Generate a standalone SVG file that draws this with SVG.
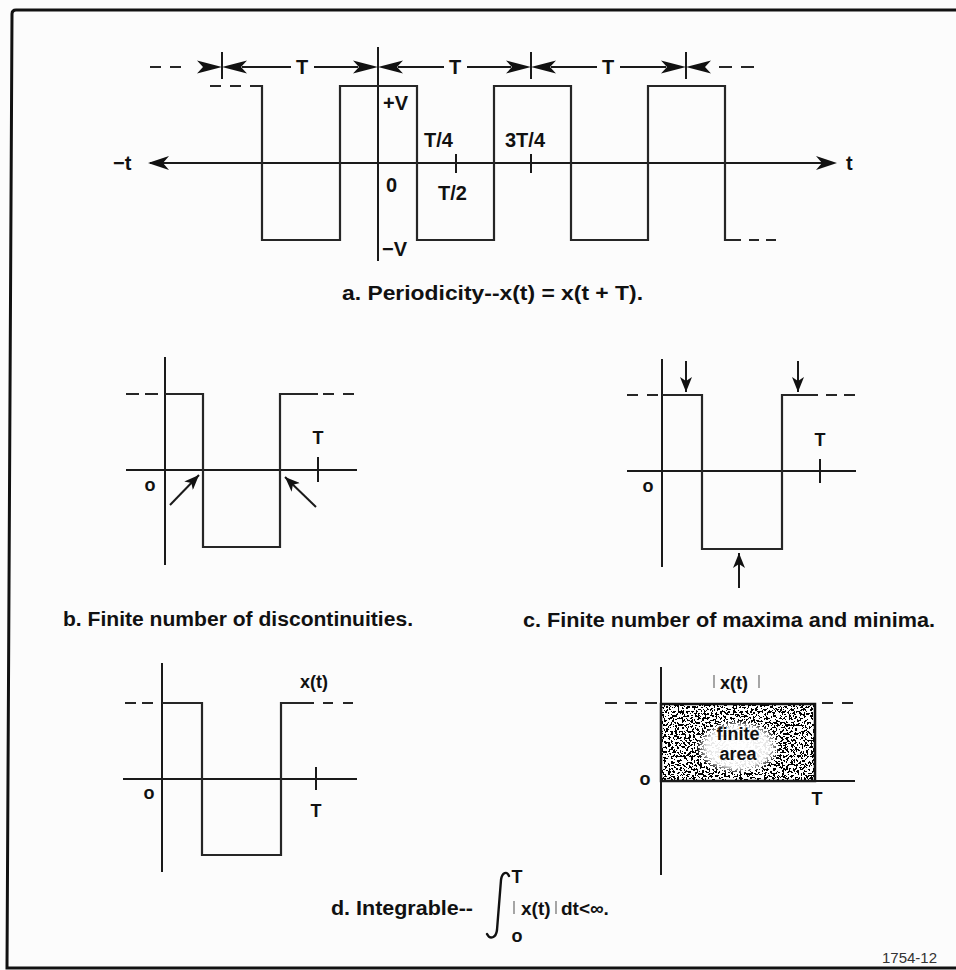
<svg xmlns="http://www.w3.org/2000/svg" xmlns:xlink="http://www.w3.org/1999/xlink" width="956" height="970" viewBox="0 0 956 970">
<style>
.ln{fill:none;stroke:#1a1a1a;stroke-width:2}
.wv{fill:none;stroke:#262626;stroke-width:2.2;stroke-linejoin:miter}
.ds{fill:none;stroke:#262626;stroke-width:2.2;stroke-dasharray:11 9}
.ah{fill:#111;stroke:none}
.bar{stroke:#777;stroke-width:1.3}
.lb{font-family:"Liberation Sans",Arial,Helvetica,sans-serif;font-weight:bold;fill:#111}
.cap{font-family:"Liberation Sans",Arial,Helvetica,sans-serif;font-weight:bold;fill:#111;font-size:20px}
</style>
<defs>
<path id="ahR" class="ah" d="M0,0 L-25,-6.5 L-19,0 L-25,6.5 Z"/>
<path id="ahL" class="ah" d="M0,0 L25,-6.5 L19,0 L25,6.5 Z"/>
<path id="axR" class="ah" d="M0,0 L-21,-7 L-15,0 L-21,7 Z"/>
<path id="axL" class="ah" d="M0,0 L21,-7 L15,0 L21,7 Z"/>
<marker id="arr" markerUnits="userSpaceOnUse" markerWidth="15" markerHeight="12" viewBox="0 0 15 12" refX="15" refY="6" orient="auto">
<path d="M0,0 L15,6 L0,12 L4,6 Z" fill="#111"/>
</marker>
<filter id="stipple" x="0" y="0" width="1" height="1">
<feTurbulence type="fractalNoise" baseFrequency="0.45" numOctaves="3" seed="11"/>
<feColorMatrix type="matrix" values="0 0 0 0 0  0 0 0 0 0  0 0 0 0 0  -3 0 0 0 1.88"/>
<feComponentTransfer><feFuncA type="discrete" tableValues="0 1"/></feComponentTransfer>
</filter>
<radialGradient id="clear" cx="0.5" cy="0.5" r="0.5">
<stop offset="0" stop-color="#fff" stop-opacity="1"/>
<stop offset="0.75" stop-color="#fff" stop-opacity="0.9"/>
<stop offset="1" stop-color="#fff" stop-opacity="0"/>
</radialGradient>
</defs>
<rect width="956" height="970" fill="#fcfcfc"/>
<g id="frame">
<path d="M956,10 H16 Q12,10 12,14 L7,968 H956" fill="none" stroke="#111" stroke-width="3"/>
</g>

<g id="panel-a">
<line class="ln" x1="150" y1="163" x2="834" y2="163"/>
<line class="ln" x1="378" y1="47" x2="378" y2="261"/>
<line class="ln" x1="456" y1="154" x2="456" y2="173"/>
<line class="ln" x1="531" y1="154" x2="531" y2="173"/>
<path class="ds" d="M210,86 H252"/>
<path class="wv" d="M250,86 H262 V240 H340 V86 H417 V240 H494 V86 H571 V240 H648 V86 H725 V240 H741"/>
<path class="ds" d="M749,240 H778" style="stroke-dasharray:10 7"/>
<line class="ln" x1="222" y1="52" x2="222" y2="79"/>
<line class="ln" x1="531" y1="52" x2="531" y2="79"/>
<line class="ln" x1="686" y1="52" x2="686" y2="79"/>
<text class="lb" x="113" y="170" font-size="20">−t</text>
<text class="lb" x="846" y="170" font-size="20">t</text>
<text class="lb" x="383" y="110" font-size="20">+V</text>
<text class="lb" x="424" y="147" font-size="20">T/4</text>
<text class="lb" x="505" y="147" font-size="20">3T/4</text>
<text class="lb" x="386" y="192" font-size="20">0</text>
<text class="lb" x="438" y="200" font-size="20">T/2</text>
<text class="lb" x="382" y="256" font-size="20">−V</text>
<text class="lb" x="302" y="74" font-size="20" text-anchor="middle">T</text>
<text class="lb" x="455" y="74" font-size="20" text-anchor="middle">T</text>
<text class="lb" x="608" y="74" font-size="20" text-anchor="middle">T</text>
<text class="cap" x="342" y="300" textLength="301" lengthAdjust="spacingAndGlyphs">a. Periodicity--x(t) = x(t + T).</text>
</g>

<g id="panel-b">
<line class="ln" x1="165" y1="357" x2="165" y2="565"/>
<line class="ln" x1="126" y1="470" x2="357" y2="470"/>
<path class="ds" d="M126,394 H158" style="stroke-dasharray:13 6"/>
<path class="wv" d="M165,394 H203 V547 H280 V394 H318"/>
<path class="ds" d="M323,394 H357" style="stroke-dasharray:11 9"/>
<line class="ln" x1="318" y1="457" x2="318" y2="482"/>
<text class="lb" x="318" y="444" font-size="18" text-anchor="middle">T</text>
<text class="lb" x="150" y="491" font-size="18" text-anchor="middle">o</text>
<text class="cap" x="63" y="626" textLength="350" lengthAdjust="spacingAndGlyphs">b. Finite number of discontinuities.</text>
</g>

<g id="panel-c">
<line class="ln" x1="662" y1="359" x2="662" y2="567"/>
<line class="ln" x1="627" y1="471" x2="856" y2="471"/>
<path class="ds" d="M627,395 H658" style="stroke-dasharray:11 9"/>
<path class="wv" d="M662,395 H702 V549 H782 V395 H818"/>
<path class="ds" d="M826,395 H856" style="stroke-dasharray:11 7"/>
<line class="ln" x1="820" y1="459" x2="820" y2="483"/>
<text class="lb" x="820" y="446" font-size="18" text-anchor="middle">T</text>
<text class="lb" x="648" y="492" font-size="18" text-anchor="middle">o</text>
<text class="cap" x="523" y="627" textLength="412" lengthAdjust="spacingAndGlyphs">c. Finite number of maxima and minima.</text>
</g>

<g id="panel-d">
<line class="ln" x1="162" y1="663" x2="162" y2="872"/>
<line class="ln" x1="123" y1="779" x2="357" y2="779"/>
<path class="ds" d="M125,703 H157" style="stroke-dasharray:11 6"/>
<path class="wv" d="M162,703 H202 V855 H281 V703 H314"/>
<path class="ds" d="M323,703 H355" style="stroke-dasharray:10 10"/>
<line class="ln" x1="316" y1="767" x2="316" y2="790"/>
<text class="lb" x="300" y="688" font-size="18">x(t)</text>
<text class="lb" x="316" y="817" font-size="18" text-anchor="middle">T</text>
<text class="lb" x="149" y="799" font-size="18" text-anchor="middle">o</text>
</g>

<g id="panel-e">
<rect x="661" y="704" width="154" height="77" fill="#fff"/>
<rect x="661" y="704" width="154" height="77" fill="#000" filter="url(#stipple)"/>
<ellipse cx="738" cy="747" rx="42" ry="27" fill="url(#clear)"/>
<rect x="661" y="704" width="154" height="77" fill="none" stroke="#111" stroke-width="2.5"/>
<line class="ln" x1="661" y1="667" x2="661" y2="875"/>
<line class="ln" x1="661" y1="781" x2="855" y2="781"/>
<path class="ds" d="M605,703 H657" style="stroke-dasharray:12 8"/>
<path class="ds" d="M822,703 H854" style="stroke-dasharray:11 9"/>
<line class="bar" x1="714" y1="675" x2="714" y2="688"/>
<text class="lb" x="720" y="689" font-size="18">x(t)</text>
<line class="bar" x1="759" y1="675" x2="759" y2="688"/>
<text class="lb" x="738" y="740" font-size="18" text-anchor="middle">finite</text>
<text class="lb" x="738" y="760" font-size="18" text-anchor="middle">area</text>
<text class="lb" x="645" y="785" font-size="18" text-anchor="middle">o</text>
<text class="lb" x="817" y="805" font-size="18" text-anchor="middle">T</text>
</g>

<g id="caption-d">
<text class="cap" x="331" y="915" textLength="142" lengthAdjust="spacingAndGlyphs">d. Integrable--</text>
<path d="M487,934 C490,940 496,938 497,930 L501,880 C502,872 507,871 509,876" fill="none" stroke="#111" stroke-width="2.4" stroke-linecap="round"/>
<text class="lb" x="517" y="883" font-size="18" text-anchor="middle">T</text>
<text class="lb" x="517" y="942" font-size="18" text-anchor="middle">o</text>
<line class="bar" x1="514" y1="901" x2="514" y2="914"/>
<text class="lb" x="521" y="915" font-size="19">x(t)</text>
<line class="bar" x1="556" y1="901" x2="556" y2="914"/>
<text class="lb" x="561" y="915" font-size="19">dt&lt;∞.</text>
</g>

<text x="882" y="963" font-family="'Liberation Sans',Arial,sans-serif" font-size="15" fill="#333">1754-12</text>

<g id="connectors">
<path class="ds" d="M150,67 H184"/>
<use xlink:href="#ahR" x="222" y="67"/>
<use xlink:href="#ahL" x="222" y="67"/>
<line class="ln" x1="242" y1="67" x2="291" y2="67"/>
<line class="ln" x1="314" y1="67" x2="358" y2="67"/>
<use xlink:href="#ahR" x="378" y="67"/>
<use xlink:href="#ahL" x="378" y="67"/>
<line class="ln" x1="398" y1="67" x2="444" y2="67"/>
<line class="ln" x1="467" y1="67" x2="511" y2="67"/>
<use xlink:href="#ahR" x="531" y="67"/>
<use xlink:href="#ahL" x="531" y="67"/>
<line class="ln" x1="551" y1="67" x2="597" y2="67"/>
<line class="ln" x1="620" y1="67" x2="666" y2="67"/>
<use xlink:href="#ahR" x="686" y="67"/>
<use xlink:href="#ahL" x="686" y="67"/>
<path class="ds" d="M719,67 H756" style="stroke-dasharray:13 9"/>
<use xlink:href="#axL" x="148" y="163"/>
<use xlink:href="#axR" x="837" y="163"/>
<line class="ln" x1="170" y1="505" x2="199" y2="475" marker-end="url(#arr)" stroke-width="2.5"/>
<line class="ln" x1="316" y1="507" x2="285" y2="477" marker-end="url(#arr)" stroke-width="2.5"/>
<line class="ln" x1="686" y1="361" x2="686" y2="392" marker-end="url(#arr)" stroke-width="2.5"/>
<line class="ln" x1="798" y1="361" x2="798" y2="392" marker-end="url(#arr)" stroke-width="2.5"/>
<line class="ln" x1="739" y1="588" x2="739" y2="553" marker-end="url(#arr)" stroke-width="2.5"/>
</g>
</svg>
